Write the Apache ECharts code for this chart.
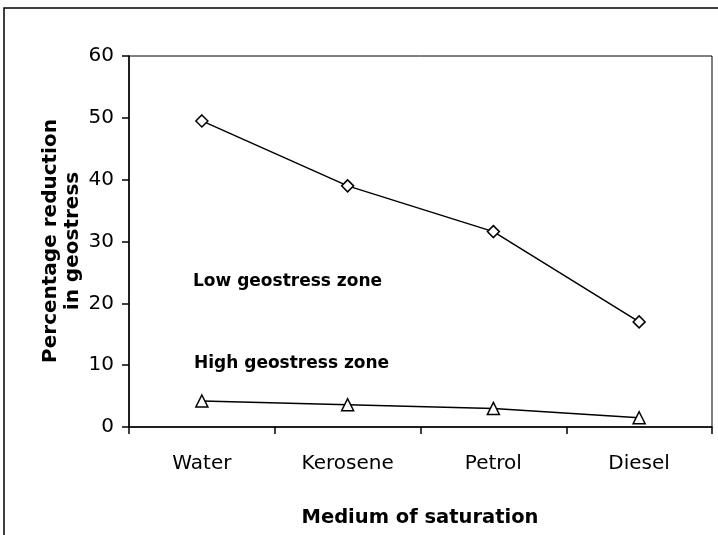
<!DOCTYPE html>
<html>
<head>
<meta charset="utf-8">
<style>
  html, body { margin: 0; padding: 0; background: #fff; }
  #chart { width: 718px; height: 535px; }
</style>
<script src="https://cdn.jsdelivr.net/npm/echarts@6/dist/echarts.min.js"></script>
</head>
<body>
<div id="chart"></div>
<script>
// data
const categories = ['Water', 'Kerosene', 'Petrol', 'Diesel'];
const lowZone = [49.5, 39.0, 31.6, 17.0];
const highZone = [4.2, 3.6, 3.0, 1.5];
const yTicks = { min: 0, max: 60, interval: 10 };

const font = '"DejaVu Sans", sans-serif';

let option = {
  animation: false,
  backgroundColor: '#fff',
  grid: {
    left: 129,
    top: 56,
    right: 6,
    bottom: 108,
    show: true,
    borderColor: '#000',
    borderWidth: 1,
    containLabel: false,
  },
  xAxis: {
    type: 'category',
    data: categories,
    boundaryGap: true,
    axisLine: { lineStyle: { color: '#000', width: 1.5 } },
    axisTick: { show: true, length: 7, lineStyle: { color: '#000', width: 1.5 } },
    axisLabel: {
      color: '#000',
      fontFamily: font,
      fontSize: 20,
      margin: 27,
    },
    splitLine: { show: false },
  },
  yAxis: {
    type: 'value',
    min: yTicks.min,
    max: yTicks.max,
    interval: yTicks.interval,
    axisLine: { show: true, lineStyle: { color: '#000', width: 1.5 } },
    axisTick: { show: true, length: 7, lineStyle: { color: '#000', width: 1.5 } },
    axisLabel: {
      color: '#000',
      fontFamily: font,
      fontSize: 20,
      margin: 15,
    },
    splitLine: { show: false },
  },
  graphic: [
    {
      type: 'rect',
      shape: { x: 4, y: 8, width: 740, height: 560 },
      style: { fill: 'none', stroke: '#000', lineWidth: 1.5 },
      silent: true,
      z: -10,
    },
    {
      type: 'text',
      x: 193,
      y: 282,
      style: {
        text: 'Low geostress zone',
        font: 'bold 17px ' + font,
        fill: '#000',
        verticalAlign: 'middle',
      },
    },
    {
      type: 'text',
      x: 194,
      y: 364,
      style: {
        text: 'High geostress zone',
        font: 'bold 17px ' + font,
        fill: '#000',
        verticalAlign: 'middle',
      },
    },
    {
      type: 'text',
      x: 420,
      y: 518,
      style: {
        text: 'Medium of saturation',
        font: 'bold 19.5px ' + font,
        fill: '#000',
        align: 'center',
        verticalAlign: 'middle',
      },
    },
    {
      type: 'text',
      x: 62,
      y: 241,
      rotation: Math.PI / 2,
      style: {
        text: 'Percentage reduction\nin geostress',
        font: 'bold 20px ' + font,
        lineHeight: 22,
        fill: '#000',
        align: 'center',
        verticalAlign: 'middle',
      },
    },
  ],
  series: [
    {
      name: 'Low geostress zone',
      type: 'line',
      data: lowZone,
      symbol: 'diamond',
      symbolSize: 12,
      lineStyle: { color: '#000', width: 1.5 },
      itemStyle: { color: '#fff', borderColor: '#000', borderWidth: 1.5 },
      z: 3,
    },
    {
      name: 'High geostress zone',
      type: 'line',
      data: highZone,
      symbol: 'triangle',
      symbolSize: 12,
      lineStyle: { color: '#000', width: 1.5 },
      itemStyle: { color: '#fff', borderColor: '#000', borderWidth: 1.5 },
      z: 3,
    },
  ],
};

let chart = echarts.init(document.getElementById('chart'));
chart.setOption(option);
window.addEventListener('resize', () => {
  chart.resize();
});
</script>
</body>
</html>
